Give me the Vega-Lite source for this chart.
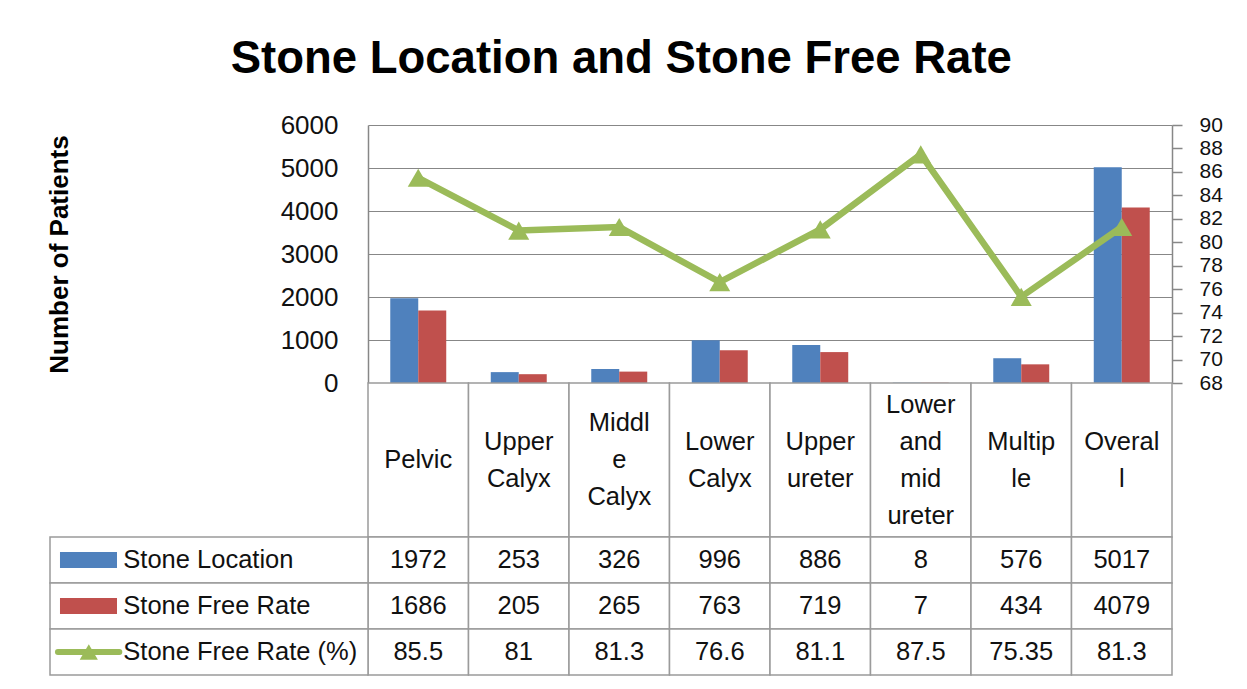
{
  "$schema": "https://vega.github.io/schema/vega-lite/v6.json",
  "padding": {"left": 46, "top": 36, "right": 5, "bottom": 5},
  "background": "white",
  "title": {"text": "Stone Location and Stone Free Rate", "font": "Liberation Sans", "fontSize": 45.5, "fontWeight": "bold", "color": "#000", "anchor": "middle", "offset": 30, "dx": -13},
  "datasets": {
    "rows": [
      {"location": "Pelvic", "label": "Pelvic", "Stone Location": 1972, "Stone Free Rate": 1686, "Stone Free Rate (%)": 85.5},
      {"location": "Upper Calyx", "label": "Upper\nCalyx", "Stone Location": 253, "Stone Free Rate": 205, "Stone Free Rate (%)": 81},
      {"location": "Middle Calyx", "label": "Middl\ne\nCalyx", "Stone Location": 326, "Stone Free Rate": 265, "Stone Free Rate (%)": 81.3},
      {"location": "Lower Calyx", "label": "Lower\nCalyx", "Stone Location": 996, "Stone Free Rate": 763, "Stone Free Rate (%)": 76.6},
      {"location": "Upper ureter", "label": "Upper\nureter", "Stone Location": 886, "Stone Free Rate": 719, "Stone Free Rate (%)": 81.1},
      {"location": "Lower and mid ureter", "label": "Lower\nand\nmid\nureter", "Stone Location": 8, "Stone Free Rate": 7, "Stone Free Rate (%)": 87.5},
      {"location": "Multiple", "label": "Multip\nle", "Stone Location": 576, "Stone Free Rate": 434, "Stone Free Rate (%)": 75.35},
      {"location": "Overall", "label": "Overal\nl", "Stone Location": 5017, "Stone Free Rate": 4079, "Stone Free Rate (%)": 81.3}
    ],
    "series": [
      {"series": "Stone Location"},
      {"series": "Stone Free Rate"},
      {"series": "Stone Free Rate (%)"}
    ]
  },
  "spacing": 0,
  "bounds": "flush",
  "vconcat": [
    {
      "width": 804,
      "height": 258,
      "data": {"name": "rows"},
      "layer": [
        {
          "transform": [{"fold": ["Stone Location", "Stone Free Rate"], "as": ["series", "count"]}],
          "mark": {"type": "bar"},
          "encoding": {
            "x": {"field": "location", "type": "nominal", "sort": null, "scale": {"paddingInner": 0.443, "paddingOuter": 0.2215}, "axis": null},
            "xOffset": {"field": "series", "type": "nominal", "sort": ["Stone Location", "Stone Free Rate"], "scale": {"paddingInner": 0, "paddingOuter": 0}},
            "y": {
              "field": "count", "type": "quantitative",
              "scale": {"domain": [0, 6000], "nice": false},
              "axis": {"orient": "left", "values": [0, 1000, 2000, 3000, 4000, 5000, 6000], "format": "d", "grid": true, "gridColor": "#878787", "gridWidth": 1, "domain": true, "domainColor": "#878787", "domainWidth": 1.5, "ticks": false, "labelPadding": 30, "labelFontSize": 26, "labelColor": "#111", "title": "Number of Patients", "titleFontSize": 26, "titleFontWeight": "bold", "titleColor": "#000", "titlePadding": 208}
            },
            "color": {"field": "series", "type": "nominal", "scale": {"domain": ["Stone Location", "Stone Free Rate"], "range": ["#4F81BD", "#C0504D"]}, "legend": null}
          }
        },
        {
          "mark": {"type": "line", "color": "#9BBB59", "strokeWidth": 6.5, "point": {"shape": "triangle-up", "size": 440, "filled": true, "color": "#9BBB59", "opacity": 1}},
          "encoding": {
            "x": {"field": "location", "type": "nominal", "sort": null},
            "y": {
              "field": "Stone Free Rate (%)", "type": "quantitative",
              "scale": {"domain": [68, 90], "nice": false, "zero": false},
              "axis": {"orient": "right", "values": [68, 70, 72, 74, 76, 78, 80, 82, 84, 86, 88, 90], "grid": false, "domainColor": "#878787", "domainWidth": 1.5, "ticks": true, "tickSize": 10, "tickColor": "#878787", "tickWidth": 1.5, "labelPadding": 17, "labelFontSize": 21, "labelOverlap": false, "labelColor": "#111", "title": null}
            }
          }
        }
      ],
      "resolve": {"scale": {"y": "independent"}}
    },
    {
      "width": 804,
      "height": 154,
      "data": {"name": "rows"},
      "encoding": {
        "x": {"field": "location", "type": "nominal", "sort": null, "scale": {"paddingInner": 0, "paddingOuter": 0}, "axis": null}
      },
      "layer": [
        {"mark": {"type": "rect", "fill": "white", "stroke": "#9b9b9b", "strokeWidth": 1.5}},
        {"mark": {"type": "text", "fontSize": 25.5, "lineBreak": "\n", "lineHeight": 37, "baseline": "middle", "color": "#111", "dy": {"expr": "-(length(split(datum.label, '\\n')) - 1) * 18.5"}}, "encoding": {"text": {"field": "label"}}}
      ]
    },
    {
      "width": 804,
      "height": 138,
      "layer": [
        {
          "data": {"name": "rows"},
          "transform": [{"fold": ["Stone Location", "Stone Free Rate", "Stone Free Rate (%)"], "as": ["series", "value"]}],
          "encoding": {
            "x": {"field": "location", "type": "nominal", "sort": null, "scale": {"paddingInner": 0, "paddingOuter": 0}, "axis": null},
            "y": {"field": "series", "type": "nominal", "sort": ["Stone Location", "Stone Free Rate", "Stone Free Rate (%)"], "scale": {"paddingInner": 0, "paddingOuter": 0}, "axis": null}
          },
          "layer": [
            {"mark": {"type": "rect", "fill": "white", "stroke": "#9b9b9b", "strokeWidth": 1.5}},
            {"mark": {"type": "text", "fontSize": 25.5, "color": "#111"}, "encoding": {"text": {"field": "value", "type": "nominal"}}}
          ]
        },
        {
          "data": {"name": "series"},
          "encoding": {
            "y": {"field": "series", "type": "nominal", "sort": ["Stone Location", "Stone Free Rate", "Stone Free Rate (%)"], "axis": null}
          },
          "layer": [
            {
              "mark": {"type": "rect", "fill": "white", "stroke": "#9b9b9b", "strokeWidth": 1.5},
              "encoding": {
                "x": {"datum": 0, "type": "quantitative", "scale": {"domain": [0, 1], "range": [-318, 0]}, "axis": null},
                "x2": {"datum": 1}
              }
            },
            {
              "transform": [{"filter": "datum.series !== 'Stone Free Rate (%)'"}],
              "mark": {"type": "bar", "height": {"band": 0.35}},
              "encoding": {
                "x": {"datum": 0.0314, "type": "quantitative"},
                "x2": {"datum": 0.2107},
                "color": {"field": "series", "type": "nominal", "scale": {"domain": ["Stone Location", "Stone Free Rate"], "range": ["#4F81BD", "#C0504D"]}, "legend": null}
              }
            },
            {
              "transform": [{"filter": "datum.series === 'Stone Free Rate (%)'"}],
              "mark": {"type": "rule", "strokeWidth": 6, "color": "#9BBB59", "strokeCap": "round"},
              "encoding": {
                "x": {"datum": 0.025, "type": "quantitative"},
                "x2": {"datum": 0.218},
                "y": {"field": "series", "type": "nominal", "bandPosition": 0.5}
              }
            },
            {
              "transform": [{"filter": "datum.series === 'Stone Free Rate (%)'"}],
              "mark": {"type": "point", "shape": "triangle-up", "size": 330, "filled": true, "color": "#9BBB59", "opacity": 1},
              "encoding": {
                "x": {"datum": 0.122, "type": "quantitative"},
                "y": {"field": "series", "type": "nominal", "bandPosition": 0.5}
              }
            },
            {
              "mark": {"type": "text", "align": "left", "fontSize": 25.5, "color": "#111"},
              "encoding": {
                "x": {"datum": 0.2305, "type": "quantitative"},
                "text": {"field": "series"}
              }
            }
          ]
        }
      ],
      "resolve": {"scale": {"x": "independent", "color": "independent"}}
    }
  ],
  "config": {
    "view": {"stroke": null},
    "font": "Liberation Sans",
    "text": {"font": "Liberation Sans"},
    "axis": {"labelFont": "Liberation Sans", "titleFont": "Liberation Sans"}
  }
}
